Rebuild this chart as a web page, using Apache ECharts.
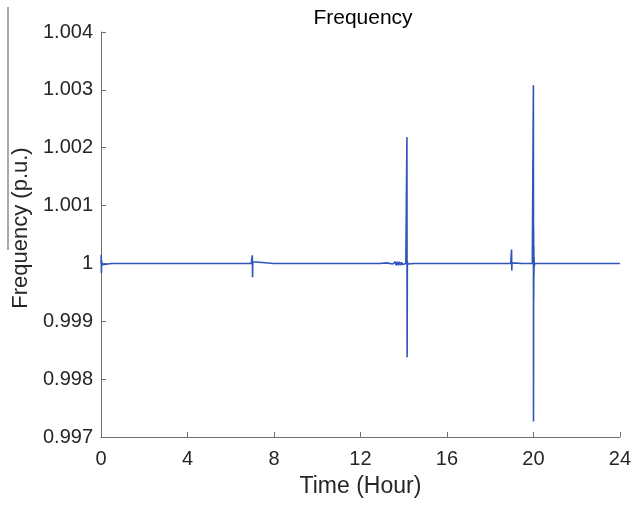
<!DOCTYPE html>
<html lang="en">
<head>
    <meta charset="UTF-8">
    <title>Frequency</title>
    <script src="https://cdn.jsdelivr.net/npm/echarts@6/dist/echarts.min.js"></script>
    <style>
        html, body { margin: 0; padding: 0; background: #fff; }
        #container { width: 634px; height: 507px; }
    </style>
</head>
<body>
<div id="container"></div>
<script>
    // time in hours, frequency in p.u.
    var timeData = [0, 0.01, 0.02, 0.03, 0.05, 0.1, 0.5, 1, 2, 3, 4, 5, 6, 6.95,
        7.0, 7.01, 7.02, 7.05, 8, 9, 10, 11, 12, 12.9, 13.2, 13.5, 13.6, 13.65, 13.7,
        13.75, 13.8, 13.85, 13.9, 13.95, 14.0, 14.1, 14.15, 14.16, 14.17, 14.18, 14.2,
        14.5, 15, 16, 17, 18, 18.95, 18.99, 19.0, 19.01, 19.05, 19.5, 19.95, 20.0,
        20.005, 20.01, 20.015, 20.02, 20.025, 20.03, 20.04, 20.06, 20.1, 20.5, 21, 22, 23, 24];
    var freqData = [1.0, 1.00015, 0.99983, 1.00005, 0.99998, 1.0, 1.0, 1.0, 1.0, 1.0, 1.0, 1.0, 1.0, 1.0,
        1.00014, 0.99976, 1.00003, 1.0, 1.0, 1.0, 1.0, 1.0, 1.0, 1.0, 1.00001, 0.99999, 1.00003, 0.99997, 1.00003,
        0.99997, 1.00003, 0.99997, 1.00002, 0.99998, 1.0, 1.0, 1.00218, 0.99838, 1.00004, 0.99999, 1.0,
        1.0, 1.0, 1.0, 1.0, 1.0, 1.0, 1.00024, 0.99988, 1.00001, 1.0, 1.0, 1.0, 1.00308,
        0.99727, 1.00062, 0.99938, 1.0003, 0.9998, 1.0001, 0.99995, 1.0, 1.0, 1.0, 1.0, 1.0, 1.0, 1.0];
    var xTicks = [0, 4, 8, 12, 16, 20, 24];
    var yMin = 0.997, yMax = 1.004, yStep = 0.001;

    var points = [];
    for (var i = 0; i < timeData.length; i++) {
        points.push([timeData[i], freqData[i]]);
    }

    var dom = document.getElementById('container');
    var myChart = echarts.init(dom, null, {renderer: 'canvas'});
    var axisColor = '#6e6e6e';
    var textColor = '#262626';
    var font = '"Liberation Sans", Arial, Helvetica, sans-serif';

    var option = {
        animation: false,
        backgroundColor: '#fff',
        title: {
            text: 'Frequency',
            left: 358,
            top: 3,
            textAlign: 'center',
            textStyle: {fontFamily: font, fontSize: 21, fontWeight: 'normal', color: '#000'}
        },
        grid: {left: 101, right: 11, top: 32, bottom: 70},
        xAxis: {
            type: 'value',
            min: 0,
            max: 24,
            interval: 4,
            name: 'Time (Hour)',
            nameLocation: 'middle',
            nameGap: 38,
            nameTextStyle: {fontFamily: font, fontSize: 23, color: textColor},
            axisLine: {show: true, lineStyle: {color: axisColor, width: 1}},
            axisTick: {show: true, inside: true, length: 5, lineStyle: {color: axisColor}},
            axisLabel: {
                fontFamily: font, fontSize: 20, color: textColor, margin: 12,
                formatter: function (v) { return xTicks.indexOf(v) >= 0 ? String(v) : ''; }
            },
            splitLine: {show: false}
        },
        yAxis: {
            type: 'value',
            min: yMin,
            max: yMax,
            interval: yStep,
            axisLine: {show: true, lineStyle: {color: axisColor, width: 1}},
            axisTick: {show: true, inside: true, length: 5, lineStyle: {color: axisColor}},
            axisLabel: {
                fontFamily: font, fontSize: 20, color: textColor, margin: 8,
                formatter: function (v) {
                    return Math.abs(v - 1) < 1e-9 ? '1' : v.toFixed(3);
                }
            },
            splitLine: {show: false}
        },
        graphic: [{
            type: 'line',
            shape: {x1: 8, y1: 7, x2: 8, y2: 250},
            style: {stroke: '#555', lineWidth: 1}
        }, {
            type: 'text',
            x: 21,
            y: 228,
            rotation: Math.PI / 2,
            style: {
                text: 'Frequency (p.u.)',
                fontFamily: font,
                fontSize: 22,
                fill: textColor,
                align: 'center',
                verticalAlign: 'middle'
            }
        }],
        series: [{
            type: 'line',
            data: points,
            smooth: false,
            showSymbol: false,
            symbol: 'none',
            clip: true,
            lineStyle: {color: '#2f55b8', width: 1.6, join: 'bevel', cap: 'butt'},
            emphasis: {disabled: true}
        }]
    };
    myChart.setOption(option, true);
</script>
</body>
</html>
